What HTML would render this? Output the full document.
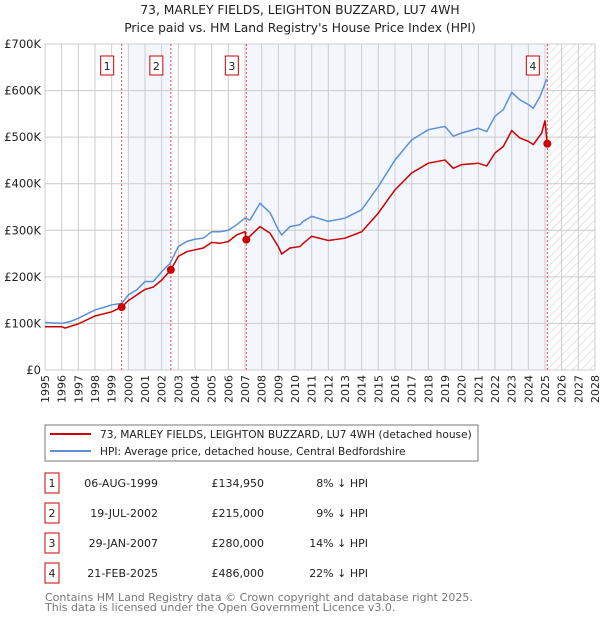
<!DOCTYPE html>
<html><head><meta charset="utf-8"><style>
body{margin:0;background:#fff;font-family:"DejaVu Sans","Liberation Sans",sans-serif;}
svg text{font-family:"DejaVu Sans","Liberation Sans",sans-serif;}
</style></head><body>
<svg id="chart" width="600" height="620" viewBox="0 0 600 620" xmlns="http://www.w3.org/2000/svg">
<defs>
<pattern id="hatch" width="6" height="6" patternUnits="userSpaceOnUse" patternTransform="rotate(45)">
<line x1="0" y1="0" x2="0" y2="6" stroke="#ccc" stroke-width="1"/>
</pattern>
</defs>
<text x="300" y="14" text-anchor="middle" font-size="12.3" fill="#222">73, MARLEY FIELDS, LEIGHTON BUZZARD, LU7 4WH</text>
<text x="300" y="32" text-anchor="middle" font-size="12.3" fill="#222">Price paid vs. HM Land Registry's House Price Index (HPI)</text>
<g id="plot"></g>
<rect x="45" y="425" width="433" height="36" fill="#fff" stroke="#777"/>
<line x1="50" y1="434" x2="91" y2="434" stroke="#cc0000" stroke-width="2"/>
<text x="100" y="438" font-size="10.6" fill="#222">73, MARLEY FIELDS, LEIGHTON BUZZARD, LU7 4WH (detached house)</text>
<line x1="50" y1="451" x2="91" y2="451" stroke="#5b8fd6" stroke-width="2"/>
<text x="100" y="455" font-size="10.6" fill="#222">HPI: Average price, detached house, Central Bedfordshire</text>
<g id="table" font-size="11" fill="#222"></g>
<text x="45" y="601" font-size="11" fill="#777">Contains HM Land Registry data © Crown copyright and database right 2025.</text>
<text x="45" y="611" font-size="11" fill="#777">This data is licensed under the Open Government Licence v3.0.</text>
</svg>
<script>
const hpiYears=[1995,1996,1996.5,1997,1997.5,1998,1998.5,1999,1999.6,2000,2000.5,2001,2001.5,2002,2002.5,2003,2003.5,2004,2004.5,2005,2005.5,2006,2006.5,2007,2007.3,2007.9,2008.5,2009,2009.2,2009.7,2010.3,2010.5,2011,2012,2013,2014,2015,2016,2017,2018,2019,2019.5,2020,2021,2021.5,2022,2022.5,2023,2023.5,2024,2024.3,2024.7,2025.1];
const hpiValues=[102,100,104,111,120,129,134,140,143,161,172,190,190,211,229,265,276,281,283,297,297,300,312,326,322,358,338,301,290,308,312,319,330,319,326,344,394,451,494,516,523,502,509,519,512,545,559,596,580,570,562,587,625];
const redYears=[1995,1996,1996.2,1997,1998,1999,1999.6,2000,2000.5,2001,2001.5,2002,2002.55,2003,2003.5,2004,2004.5,2005,2005.5,2006,2006.5,2007,2007.08,2007.9,2008.5,2009,2009.2,2009.7,2010.3,2010.5,2011,2012,2013,2014,2015,2016,2017,2018,2019,2019.5,2020,2021,2021.5,2022,2022.5,2023,2023.5,2024,2024.3,2024.8,2025.0,2025.14];
const redValues=[93,93,90,99,116,125,135,149,161,173,178,193,215,244,254,258,262,274,272,276,290,297,280,308,294,265,249,262,265,272,287,278,283,297,337,387,423,444,451,433,441,444,438,466,480,514,498,491,484,509,536,486];
const saleYears=[1999.6,2002.55,2007.08,2025.14];
const salePrices=[134.95,215,280,486];
const saleLabels=["1","2","3","4"];
const saleDates=["06-AUG-1999","19-JUL-2002","29-JAN-2007","21-FEB-2025"];
const salePriceText=["£134,950","£215,000","£280,000","£486,000"];
const saleDiff=["8% ↓ HPI","9% ↓ HPI","14% ↓ HPI","22% ↓ HPI"];
const yTicks=[0,100,200,300,400,500,600,700];
const yTickLabels=["£0","£100K","£200K","£300K","£400K","£500K","£600K","£700K"];
const xMin=1995,xMax=2028,yMax=700;
const L=45,R=595,T=44,B=370;
const X=v=>L+(v-xMin)/(xMax-xMin)*(R-L);
const Y=v=>B-v/yMax*(B-T);
const NS="http://www.w3.org/2000/svg";
const plot=document.getElementById('plot');
function mk(tag,attrs,parent){const e=document.createElementNS(NS,tag);for(const k in attrs)e.setAttribute(k,attrs[k]);(parent||plot).appendChild(e);return e;}
let e;
e=mk('rect',{x:X(2000),y:T,width:X(saleYears[1])-X(2000),height:B-T,fill:'#eef3fc',opacity:0.7});


e=mk('rect',{x:X(saleYears[2]),y:T,width:X(saleYears[3])-X(saleYears[2]),height:B-T,fill:'#eef3fc',opacity:0.7});


e=mk('rect',{x:X(saleYears[3]),y:T,width:R-X(saleYears[3]),height:B-T,fill:'url(#hatch)'});


for(let yr=xMin;yr<=xMax;yr++){
 e=mk('line',{x1:X(yr),x2:X(yr),y1:T,y2:B,stroke:'#ccc','stroke-width':1});
 
 
 const tx=X(yr)+4;
 e=mk('text',{x:0,y:0,transform:`translate(${tx},${B+5}) rotate(-90)`,'text-anchor':'end','font-size':11,fill:'#222'});
 e.textContent=String(yr);
 
 
}
yTicks.forEach((t,i)=>{
 e=mk('line',{x1:L,x2:R,y1:Y(t),y2:Y(t),stroke:'#ccc','stroke-width':1});
 
 
 e=mk('text',{x:L-4,y:Y(t)+4,'text-anchor':'end','font-size':11.5,fill:'#222'});
 e.textContent=yTickLabels[i];
 
 
});
e=mk('rect',{x:L,y:T,width:R-L,height:B-T,fill:'none',stroke:'#ccc'});


saleYears.forEach((s,i)=>{
 e=mk('line',{x1:X(s),x2:X(s),y1:T,y2:B,stroke:'#e05050','stroke-width':1,'stroke-dasharray':'2,2'});
 
 
 e=mk('rect',{x:X(s)-21,y:56,width:13,height:19,fill:'#fff',stroke:'#cc0000'});
 
 
 e=mk('text',{x:X(s)-14.5,y:70,'text-anchor':'middle','font-size':11,fill:'#222'});
 e.textContent=saleLabels[i];
 
 
});
const pts=(xs,vs)=>xs.map((x,i)=>X(x).toFixed(1)+','+Y(vs[i]).toFixed(1)).join(' ');
e=mk('polyline',{points:pts(hpiYears,hpiValues),fill:'none',stroke:'#5b8fd6','stroke-width':1.5});


e=mk('polyline',{points:pts(redYears,redValues),fill:'none',stroke:'#cc0000','stroke-width':1.5});


saleYears.forEach((s,i)=>{
 e=mk('circle',{cx:X(s),cy:Y(salePrices[i]),r:4,fill:'#cc0000'});
 
 
});
const tbl=document.getElementById('table');
saleLabels.forEach((lb,i)=>{
 const cy=483+i*30;
 e=mk('rect',{x:45,y:cy-10,width:14,height:20,fill:'#fff',stroke:'#cc0000'},tbl);
 
 
 const cells=[[52,'middle',lb,'table-row-number'],[158,'end',saleDates[i],'table-row-date'],[264,'end',salePriceText[i],'table-row-price'],[368,'end',saleDiff[i],'table-row-hpi-diff']];
 cells.forEach(c=>{
  e=mk('text',{x:c[0],y:cy+4,'text-anchor':c[1],'font-size':11,fill:'#222'},tbl);
  e.textContent=c[2];
  
  
 });
});
</script>
</body></html>
